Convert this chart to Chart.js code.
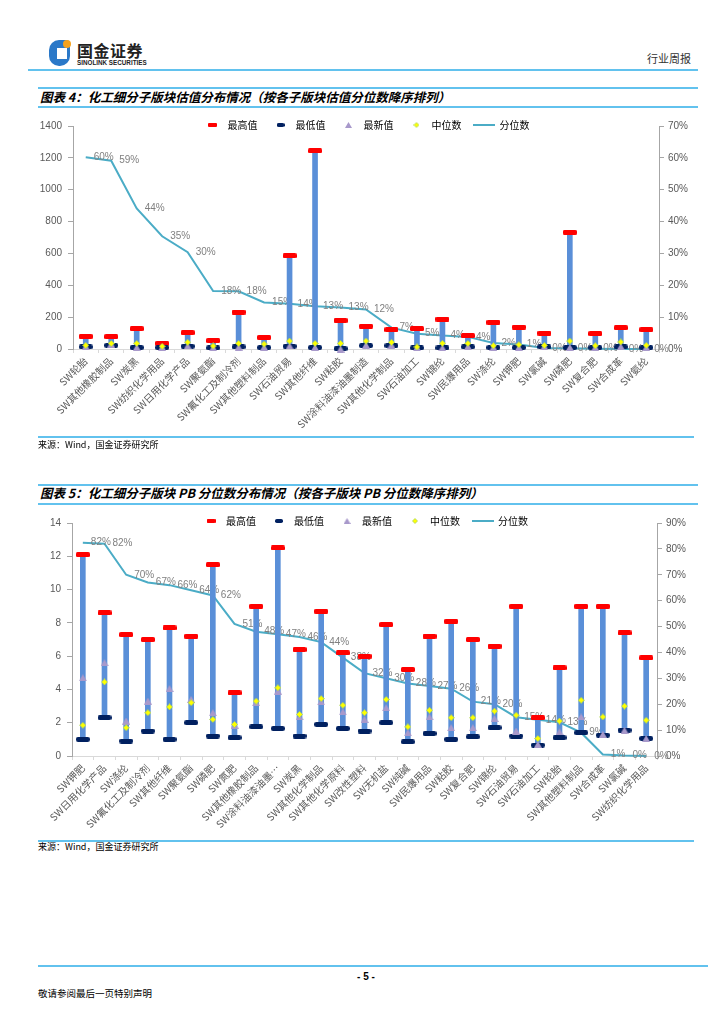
<!DOCTYPE html>
<html><head><meta charset="utf-8">
<script src="https://cdn.jsdelivr.net/npm/chart.js@4.4.0/dist/chart.umd.min.js"></script>
<style>
html,body{margin:0;padding:0;background:#fff;}
body{width:724px;height:1024px;position:relative;overflow:hidden;font-family:'Noto Sans CJK SC','Liberation Sans',sans-serif;color:#000;}
.hl{position:absolute;background:#62c2ee;}
.title{position:absolute;left:40px;font-size:12.5px;font-weight:bold;font-style:italic;line-height:16px;white-space:nowrap;}
.src{position:absolute;left:38px;font-size:9px;line-height:12px;white-space:nowrap;}
canvas{position:absolute;left:0;}
</style></head><body>
<!-- header -->
<div style="position:absolute;left:49px;top:40px;width:21px;height:26px;background:#2a78c8;border-radius:10px 4px 10px 10px;"></div>
<div style="position:absolute;left:57px;top:48px;width:10px;height:11px;background:#fff;"></div>
<div style="position:absolute;left:63px;top:40px;width:8px;height:8px;background:#f5a21e;border-radius:50%;"></div>
<div style="position:absolute;left:77px;top:40px;font-size:16px;font-weight:bold;line-height:20px;color:#222;letter-spacing:0.5px;">国金证券</div>
<div style="position:absolute;left:77px;top:59px;font-size:6.3px;font-weight:bold;line-height:8px;color:#222;font-family:'Liberation Sans',sans-serif;">SINOLINK SECURITIES</div>
<div style="position:absolute;left:647px;top:51px;font-size:11px;line-height:14px;color:#333;">行业周报</div>
<div class="hl" style="left:28px;top:69px;width:670px;height:2px;"></div>

<!-- chart 1 title -->
<div class="hl" style="left:38px;top:87px;width:660px;height:1.5px;"></div>
<div class="title" style="top:89px;">图表 4：化工细分子版块估值分布情况（按各子版块估值分位数降序排列）</div>
<div class="hl" style="left:38px;top:106px;width:660px;height:1.5px;"></div>
<canvas id="c1" width="724" height="344" style="top:93px;"></canvas>
<div class="hl" style="left:38px;top:436px;width:656px;height:1.5px;"></div>
<div class="src" style="top:439px;">来源：Wind，国金证券研究所</div>

<!-- chart 2 title -->
<div class="hl" style="left:38px;top:484px;width:660px;height:1.5px;"></div>
<div class="title" style="top:485px;">图表 5：化工细分子版块 PB 分位数分布情况（按各子版块 PB 分位数降序排列）</div>
<div class="hl" style="left:38px;top:503px;width:660px;height:1.5px;"></div>
<canvas id="c2" width="724" height="350" style="top:490px;"></canvas>
<div class="hl" style="left:38px;top:840px;width:656px;height:1.5px;"></div>
<div class="src" style="top:841px;">来源：Wind，国金证券研究所</div>

<!-- footer -->
<div class="hl" style="left:38px;top:965px;width:670px;height:2px;"></div>
<div style="position:absolute;left:0;width:732px;text-align:center;top:970px;font-size:10px;font-weight:bold;line-height:14px;font-family:'Liberation Sans',sans-serif;">- 5 -</div>
<div style="position:absolute;left:38px;top:987px;font-size:9.5px;line-height:12px;">敬请参阅最后一页特别声明</div>

<script>
// ---------------- DATA: chart 1 (valuation) ----------------
const cats1 = ['SW轮胎','SW其他橡胶制品','SW炭黑','SW纺织化学用品','SW日用化学产品','SW聚氨酯','SW氟化工及制冷剂','SW其他塑料制品','SW石油贸易','SW其他纤维','SW粘胶','SW涂料油漆油墨制造','SW其他化学制品','SW石油加工','SW锦纶','SW民爆用品','SW涤纶','SW钾肥','SW氯碱','SW磷肥','SW复合肥','SW合成革','SW氨纶'];
const max1 = [80,78,128,36,103,53,232,73,586,1245,180,144,122,128,188,84,168,138,100,733,97,134,122];
const min1 = [13,23,9,9,17,7,13,9,17,9,2,21,21,7,7,13,9,9,13,9,9,13,9];
const latest1 = [15,30,10,10,20,8,12,12,20,10,0,25,25,8,8,15,10,10,15,10,10,15,10];
const median1 = [23,35,35,17,42,19,35,31,50,35,35,50,42,13,36,35,21,27,23,50,21,44,23];
const pct1 = [60.2,59.1,44.1,35.4,30.4,18.2,18.1,14.6,14.2,13.4,13,12.4,6.7,4.8,4.2,3.8,1.9,1.4,0.3,0.2,0.1,0,0];
const leftTicks1 = [0,200,400,600,800,1000,1200,1400];
const rightTicks1 = [0,10,20,30,40,50,60,70];

// ---------------- DATA: chart 2 (PB) ----------------
const cats2 = ['SW钾肥','SW日用化学产品','SW涤纶','SW氟化工及制冷剂','SW其他纤维','SW聚氨酯','SW磷肥','SW氮肥','SW其他橡胶制品','SW涂料油漆油墨…','SW炭黑','SW其他化学制品','SW其他化学原料','SW改性塑料','SW无机盐','SW纯碱','SW民爆用品','SW粘胶','SW复合肥','SW锦纶','SW石油贸易','SW石油加工','SW轮胎','SW其他塑料制品','SW合成革','SW氯碱','SW纺织化学用品'];
const max2 = [12.1,8.6,7.3,7.0,7.7,7.2,11.5,3.8,9.0,12.5,6.4,8.7,6.2,6.0,7.9,5.2,7.2,8.1,7.0,6.6,9.0,2.3,5.3,9.0,9.0,7.4,5.9];
const min2 = [1.0,2.3,0.9,1.5,1.0,2.0,1.2,1.1,1.75,1.65,1.2,1.9,1.65,1.5,2.0,0.85,1.35,1.0,1.15,1.7,1.2,0.65,1.1,1.4,1.25,1.55,1.05];
const latest2 = [4.7,5.6,2.1,3.3,4.05,3.4,2.6,1.85,3.2,3.9,2.35,3.25,2.65,2.2,2.9,1.4,2.35,1.7,1.7,2.25,1.5,0.7,1.45,2.35,1.3,1.55,1.05];
const median2 = [1.85,4.45,1.7,2.6,2.95,3.2,2.2,1.9,3.3,4.1,2.5,3.45,3.05,2.6,3.4,1.75,2.75,2.3,2.3,2.7,2.45,1.05,2.1,3.35,2.35,3.0,2.15];
const pct2 = [82.4,82,70,67,66,64,62,51,48,47,46,44,38,32,30,28,27,26,21,20,15,14,13,9,0.6,0.2,0];
const leftTicks2 = [0,2,4,6,8,10,12,14];
const rightTicks2 = [0,10,20,30,40,50,60,70,80,90];

const seriesNames = ['最高值','最低值','最新值','中位数','分位数'];

// ---------------- marker images ----------------
function mk(w,h,draw){const c=document.createElement('canvas');c.width=w;c.height=h;draw(c.getContext('2d'),w,h);return c;}
function rr(color,r){return (g,w,h)=>{g.fillStyle=color;g.beginPath();g.moveTo(r,0);g.lineTo(w-r,0);g.quadraticCurveTo(w,0,w,r);g.lineTo(w,h-r);g.quadraticCurveTo(w,h,w-r,h);g.lineTo(r,h);g.quadraticCurveTo(0,h,0,h-r);g.lineTo(0,r);g.quadraticCurveTo(0,0,r,0);g.closePath();g.fill();};}
function triD(color){return (g,w,h)=>{g.fillStyle=color;g.beginPath();g.moveTo(w/2,0);g.lineTo(w,h);g.lineTo(0,h);g.closePath();g.fill();};}
function diaD(fill,stroke){return (g,w,h)=>{g.beginPath();g.moveTo(w/2,0.5);g.lineTo(w-0.5,h/2);g.lineTo(w/2,h-0.5);g.lineTo(0.5,h/2);g.closePath();g.fillStyle=fill;g.fill();g.strokeStyle=stroke;g.lineWidth=0.8;g.stroke();};}
const RED='#ff0000', NAVY='#002060', LAV='#a899cb', YEL='#ffff00', YELS='#a8d45a', LINE='#4bacc6', BAR='#5a8fd8';
const capRed = mk(14,5,rr(RED,1.5));
const capNavy = mk(14,5,rr(NAVY,2.2));
const triM = mk(8,7,triD(LAV));
const diaM = mk(7,7,diaD(YEL,YELS));
const lgRed = mk(9,4,rr(RED,1));
const lgNavy = mk(8,4,rr(NAVY,1.8));
const lgTri = mk(7,6,triD(LAV));
const lgDia = mk(6,6,diaD(YEL,YELS));
const lgLine = mk(22,2,(g,w,h)=>{g.fillStyle=LINE;g.fillRect(0,0,w,h);});

// ---------------- plugins ----------------
const pctLabels = {
  id:'pctLabels',
  afterDatasetDraw(chart,args){
    const ds = chart.data.datasets[args.index];
    if(!ds.pctLabels) return;
    const ctx = chart.ctx;
    ctx.save();
    ctx.font = '10px "Liberation Sans", sans-serif';
    ctx.fillStyle = '#808080';
    ctx.textAlign = 'left'; ctx.textBaseline = 'middle';
    args.meta.data.forEach((pt,i)=>{ ctx.fillText(Math.round(ds.data[i])+'%', pt.x+8, pt.y); });
    ctx.restore();
  }
};
// the legend sits inside the top of the plot, as in the original
const legendPlace = {
  id:'legendPlace',
  afterLayout(chart,args,o){
    const lg = chart.legend; if(!lg) return;
    const ca = chart.chartArea;
    lg.left = ca.left; lg.right = ca.right; lg.width = ca.right-ca.left;
    const pad = lg.options.labels.padding;
    const h = lg.height;
    lg.top = o.centerY - pad - 5; lg.bottom = lg.top + h;
  }
};

function build(id, cats, maxV, minV, latV, medV, pctV, lt, rt, lay){
  const font = {family:"'Liberation Sans','Noto Sans CJK SC',sans-serif", size:10};
  const legendItems = [
    {text:seriesNames[0], pointStyle:lgRed, fillStyle:RED, strokeStyle:RED, lineWidth:0, hidden:false, datasetIndex:2},
    {text:seriesNames[1], pointStyle:lgNavy, fillStyle:NAVY, strokeStyle:NAVY, lineWidth:0, hidden:false, datasetIndex:3},
    {text:seriesNames[2], pointStyle:lgTri, fillStyle:LAV, strokeStyle:LAV, lineWidth:0, hidden:false, datasetIndex:4},
    {text:seriesNames[3], pointStyle:lgDia, fillStyle:YEL, strokeStyle:YEL, lineWidth:0, hidden:false, datasetIndex:5},
    {text:seriesNames[4], pointStyle:lgLine, fillStyle:LINE, strokeStyle:LINE, lineWidth:0, hidden:false, datasetIndex:0}
  ];
  const marker = (label,data,img,order)=>({type:'line', label, data, showLine:false, pointStyle:img, pointRadius:3, pointHoverRadius:3, order, clip:false, yAxisID:'y'});
  return new Chart(document.getElementById(id), {
    data:{
      labels:cats,
      datasets:[
        {type:'line', label:seriesNames[4], data:pctV, yAxisID:'y1', borderColor:LINE, borderWidth:2, pointRadius:0, tension:0, order:10, pctLabels:true, clip:false},
        {type:'bar', label:'range', data:cats.map((c,i)=>[minV[i],maxV[i]]), backgroundColor:BAR, barThickness:5, order:9, yAxisID:'y'},
        marker(seriesNames[0], maxV, capRed, 4),
        marker(seriesNames[1], minV, capNavy, 3),
        marker(seriesNames[2], latV, triM, 2),
        marker(seriesNames[3], medV, diaM, 1)
      ]
    },
    options:{
      responsive:false, animation:false, events:[],
      layout:{padding:{top:0, left:0, right:0, bottom:0}},
      plugins:{
        tooltip:{enabled:false},
        legend:{position:'top', align:'center',
          labels:{usePointStyle:true, pointStyleWidth:20, padding:13, color:'#595959',
            font:{family:"'Noto Sans CJK SC',sans-serif", size:10},
            generateLabels:()=>legendItems}},
        legendPlace:{centerY:lay.legendY}
      },
      scales:{
        x:{type:'category', offset:true,
          grid:{offset:true, drawOnChartArea:false, drawTicks:true, tickLength:4, color:'#d9d9d9'},
          border:{color:'#d9d9d9'},
          ticks:{autoSkip:false, maxRotation:45, minRotation:45, color:'#595959', padding:2,
            font:{family:"'Noto Sans CJK SC','Liberation Sans',sans-serif", size:10}},
          afterFit:s=>{s.height = lay.xH;}},
        y:{position:'left', min:lt[0], max:lt[lt.length-1],
          ticks:{stepSize:lt[1]-lt[0], color:'#595959', padding:6, font, callback:v=>String(v)},
          grid:{drawOnChartArea:false, drawTicks:true, tickLength:5, color:'#a6a6a6'},
          border:{color:'#a6a6a6'},
          afterFit:s=>{s.width = lay.yW;}},
        y1:{position:'right', min:rt[0], max:rt[rt.length-1],
          ticks:{stepSize:rt[1]-rt[0], color:'#595959', padding:4, font, callback:v=>v+'%'},
          grid:{drawOnChartArea:false, drawTicks:true, tickLength:5, color:'#a6a6a6'},
          border:{color:'#a6a6a6'},
          afterFit:s=>{s.width = lay.y1W;}}
      }
    },
    plugins:[pctLabels, legendPlace]
  });
}

build('c1', cats1, max1, min1, latest1, median1, pct1, leftTicks1, rightTicks1,
  {xH:88, yW:73, y1W:65, legendY:32});
build('c2', cats2, max2, min2, latest2, median2, pct2, leftTicks2, rightTicks2,
  {xH:84, yW:72, y1W:67, legendY:31});
</script>
</body></html>
